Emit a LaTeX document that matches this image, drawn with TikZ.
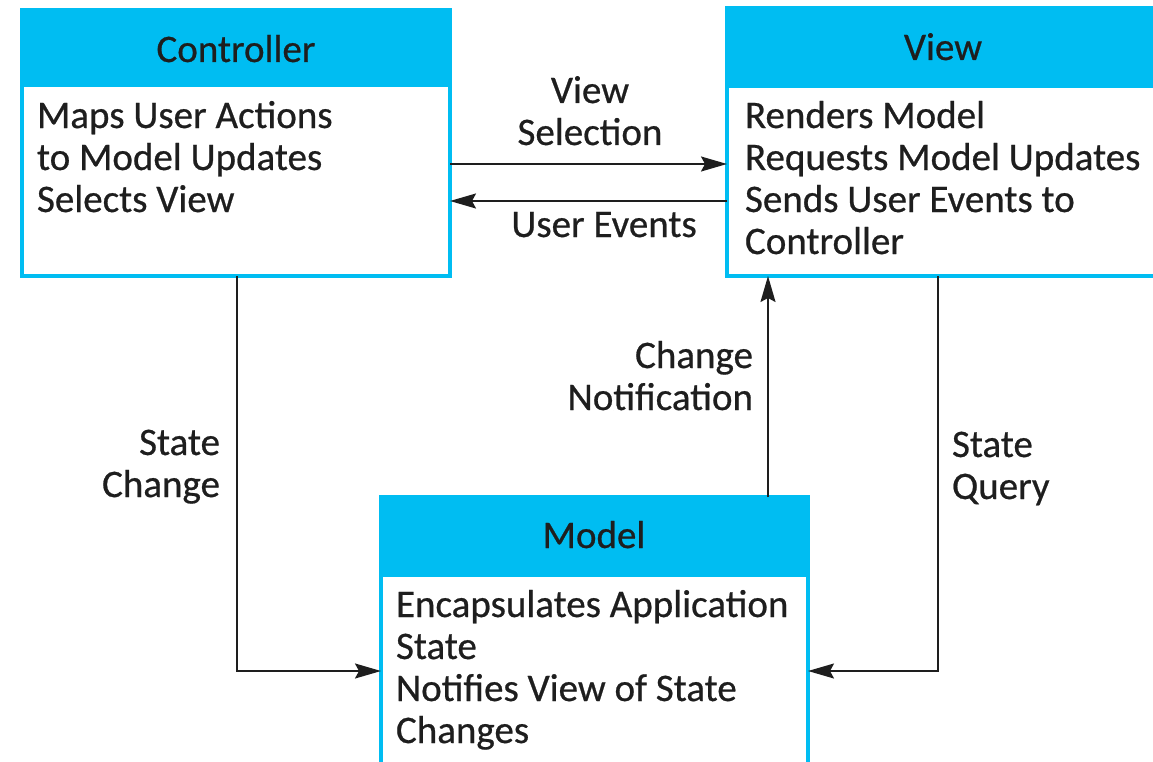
\documentclass[tikz,border=0pt]{standalone}
\usepackage{fontspec}
\setmainfont{Carlito}[UprightFeatures={FakeBold=0.6}]
\usetikzlibrary{arrows.meta}
\definecolor{hdr}{RGB}{0,189,242}
\definecolor{ink}{RGB}{30,30,30}
\tikzset{
  box/.style={draw=hdr, line width=4pt, fill=white, inner sep=0pt, outer sep=0pt, anchor=north west},
  txt/.style={font=\fontsize{39}{42}\selectfont, text=ink, inner sep=0pt, outer sep=0pt},
  conn/.style={draw=ink, line width=1.8pt, -{Stealth[length=26pt,width=15pt,inset=4pt]}},
}
\newcommand{\up}{\rule{0pt}{30pt}}
\begin{document}
\begin{tikzpicture}[x=1pt,y=-1pt]
\useasboundingbox (0,0) rectangle (1153,762);
% boxes
\node[box, minimum width=428pt, minimum height=266pt] (ctrl) at (22,10) {};
\node[box, minimum width=432pt, minimum height=268pt] (view) at (727,8) {};
\node[box, minimum width=427pt, minimum height=280pt] (model) at (381,497) {};
% headers
\fill[hdr] (ctrl.north west) rectangle ([yshift=-77pt]ctrl.north east);
\fill[hdr] (view.north west) rectangle ([yshift=-80pt]view.north east);
\fill[hdr] (model.north west) rectangle ([yshift=-80pt]model.north east);
\draw[hdr, line width=4pt] (ctrl.north west) rectangle (ctrl.south east);
\draw[hdr, line width=4pt] (view.north west) rectangle (view.south east);
\draw[hdr, line width=4pt] (model.north west) rectangle (model.south east);
% titles
\node[txt, anchor=base] (ctitle) at (236,62) {Controller};
\node[txt, anchor=base] (vtitle) at (943,60) {View};
\node[txt, anchor=base] (mtitle) at (594,548) {Model};
% bodies
\node[txt, anchor=north west, align=left] (cbody) at (37,98) {\up Maps User Actions\\to Model Updates\\Selects View};
\node[txt, anchor=north west, align=left] (vbody) at (745,98) {\up Renders Model\\Requests Model Updates\\Sends User Events to\\Controller};
\node[txt, anchor=north west, align=left] (mbody) at (396,587) {\up Encapsulates Application\\State\\Notifies View of State\\Changes};
% labels
\node[txt, anchor=north, align=center] (lvs) at (590,73) {\up View\\Selection};
\node[txt, anchor=base] (lue) at (604,237) {User Events};
\node[txt, anchor=north east, align=right] (lsc) at (220,425) {\up State\\Change};
\node[txt, anchor=north east, align=right] (lcn) at (753,338) {\up Change\\Notification};
\node[txt, anchor=north west, align=left] (lsq) at (952,427) {\up State\\Query};
% connector helper coordinates
\coordinate (yvs) at (0,164);
\coordinate (yue) at (0,201);
\coordinate (ybot) at (0,671);
\coordinate (xsc) at (237,0);
\coordinate (xcn) at (768,0);
\coordinate (xsq) at (938,0);
% connectors
\draw[conn] (ctrl.east |- yvs) -- (view.west |- yvs);
\draw[conn] (view.west |- yue) -- (ctrl.east |- yue);
\draw[conn] (xsc |- ctrl.south) -- (xsc |- ybot) -- (model.west |- ybot);
\draw[conn] (xcn |- model.north) -- (xcn |- view.south);
\draw[conn] (xsq |- view.south) -- (xsq |- ybot) -- (model.east |- ybot);
\end{tikzpicture}
\end{document}
